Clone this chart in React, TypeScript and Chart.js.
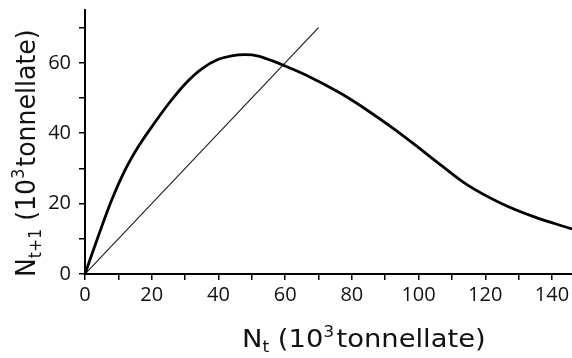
import React, { useEffect, useRef } from "react";
import { Chart, registerables } from "chart.js";

Chart.register(...registerables);

// Reproduction curve N(t+1) vs N(t), in 10^3 tonnellate
const curveX = [0, 4, 8, 12, 16, 20, 25, 30, 35, 40, 44, 48, 52, 56, 60, 66.5, 76.5, 84.5, 92.5, 100, 107, 114.5, 124.5, 134.5, 146];
const curveY = [0, 10.8, 21, 29.5, 36.2, 41.8, 48.3, 54, 58.3, 61, 62, 62.3, 61.9, 60.6, 59.1, 56.4, 51.4, 46.6, 41.3, 35.9, 30.7, 25.4, 20.2, 16.3, 12.8];
// Replacement line N(t+1) = N(t)
const diagX = [0, 70];
const diagY = [0, 70];

const xMin = 0, xMax = 146, yMin = 0, yMax = 75;
const tickStep = 10;
const labelStep = 20;

const TICK_FONT = '"Open Sans", "DejaVu Sans", sans-serif';
const TITLE_FONT = '"DejaVu Sans", "Open Sans", sans-serif';

type Seg = { t: string; s: number; dy: number; gap?: number };
const xTitle: Seg[] = [
  { t: "N", s: 24, dy: 0 },
  { t: "t", s: 15, dy: 5 },
  { t: " (10", s: 24, dy: 0 },
  { t: "3", s: 15, dy: -10 },
  { t: "tonnellate)", s: 24, dy: 0, gap: 2 },
];
const yTitle: Seg[] = [
  { t: "N", s: 24, dy: 0 },
  { t: "t+1", s: 15, dy: 5 },
  { t: " (10", s: 24, dy: 0 },
  { t: "3", s: 15, dy: -10 },
  { t: "tonnellate)", s: 24, dy: 0, gap: 2 },
];

function drawSegs(ctx: CanvasRenderingContext2D, segs: Seg[]) {
  let x = 0;
  for (const g of segs) {
    x += g.gap || 0;
    ctx.font = `${g.s}px ${TITLE_FONT}`;
    ctx.fillText(g.t, x, g.dy);
    x += ctx.measureText(g.t).width;
  }
}

const titlePlugin = {
  id: "richTitles",
  afterDraw(chart: any) {
    const ctx: CanvasRenderingContext2D = chart.ctx;
    ctx.save();
    ctx.fillStyle = "#111";
    ctx.textBaseline = "alphabetic";
    ctx.textAlign = "left";
    ctx.save();
    ctx.translate(242, 347);
    ctx.scale(1.14, 1);
    drawSegs(ctx, xTitle);
    ctx.restore();
    ctx.save();
    ctx.translate(35, 277);
    ctx.rotate(-Math.PI / 2);
    ctx.scale(1.05, 1.12);
    drawSegs(ctx, yTitle);
    ctx.restore();
    ctx.restore();
  },
};

export default function App() {
  const ref = useRef<HTMLCanvasElement>(null);
  useEffect(() => {
    let chart: Chart | null = null;
    let cancelled = false;
    const make = () => {
      if (cancelled || !ref.current) return;
      const curve = curveX.map((x, i) => ({ x, y: curveY[i] }));
      const diag = diagX.map((x, i) => ({ x, y: diagY[i] }));
      const filt = (scale: any) => {
        scale.ticks = scale.ticks.filter((t: any) => Math.abs(t.value / tickStep - Math.round(t.value / tickStep)) < 1e-6);
      };
      const lbl = (v: any) => (Math.round(Number(v)) % labelStep === 0 ? String(Math.round(Number(v))) : "");
      chart = new Chart(ref.current, {
        type: "line",
        data: {
          datasets: [
            {
              data: curve,
              borderColor: "#000",
              borderWidth: 2.8,
              pointRadius: 0,
              cubicInterpolationMode: "monotone",
              fill: false,
            },
            {
              data: diag,
              borderColor: "#222",
              borderWidth: 1.2,
              pointRadius: 0,
              fill: false,
            },
          ],
        },
        options: {
          responsive: false,
          animation: false,
          devicePixelRatio: 1,
          layout: { padding: { top: 10, right: 0, left: 0, bottom: 0 } },
          plugins: { legend: { display: false }, tooltip: { enabled: false }, title: { display: false } },
          scales: {
            x: {
              type: "linear",
              min: xMin,
              max: xMax,
              afterBuildTicks: filt,
              afterFit: (s: any) => { s.height = 84; s.paddingLeft = 0; s.paddingRight = 0; },
              border: { display: true, color: "#000", width: 2 },
              grid: { drawOnChartArea: false, drawTicks: true, tickLength: 6, color: "#000", lineWidth: 1.5 },
              ticks: { stepSize: tickStep, includeBounds: false, autoSkip: false, maxRotation: 0, color: "#111", padding: 3, font: { family: TICK_FONT, size: 20 }, callback: lbl },
            },
            y: {
              type: "linear",
              min: yMin,
              max: yMax,
              afterBuildTicks: filt,
              afterFit: (s: any) => { s.width = 85; s.paddingTop = 0; s.paddingBottom = 0; },
              border: { display: true, color: "#000", width: 2 },
              grid: { drawOnChartArea: false, drawTicks: true, tickLength: 6, color: "#000", lineWidth: 1.5 },
              ticks: { stepSize: tickStep, includeBounds: false, autoSkip: false, color: "#111", padding: 8, font: { family: TICK_FONT, size: 20 }, callback: lbl },
            },
          },
        },
        plugins: [titlePlugin],
      });
    };
    const fonts: any = (document as any).fonts;
    if (fonts && fonts.load) {
      Promise.all([fonts.load(`20px "Open Sans"`), fonts.load(`24px "DejaVu Sans"`)]).then(make, make);
    } else make();
    return () => {
      cancelled = true;
      if (chart) chart.destroy();
    };
  }, []);
  return (
    <div style={{ position: "absolute", left: 0, top: 0, width: 572, height: 358, background: "#fff" }}>
      <canvas ref={ref} width={572} height={358} style={{ display: "block" }} />
    </div>
  );
}
